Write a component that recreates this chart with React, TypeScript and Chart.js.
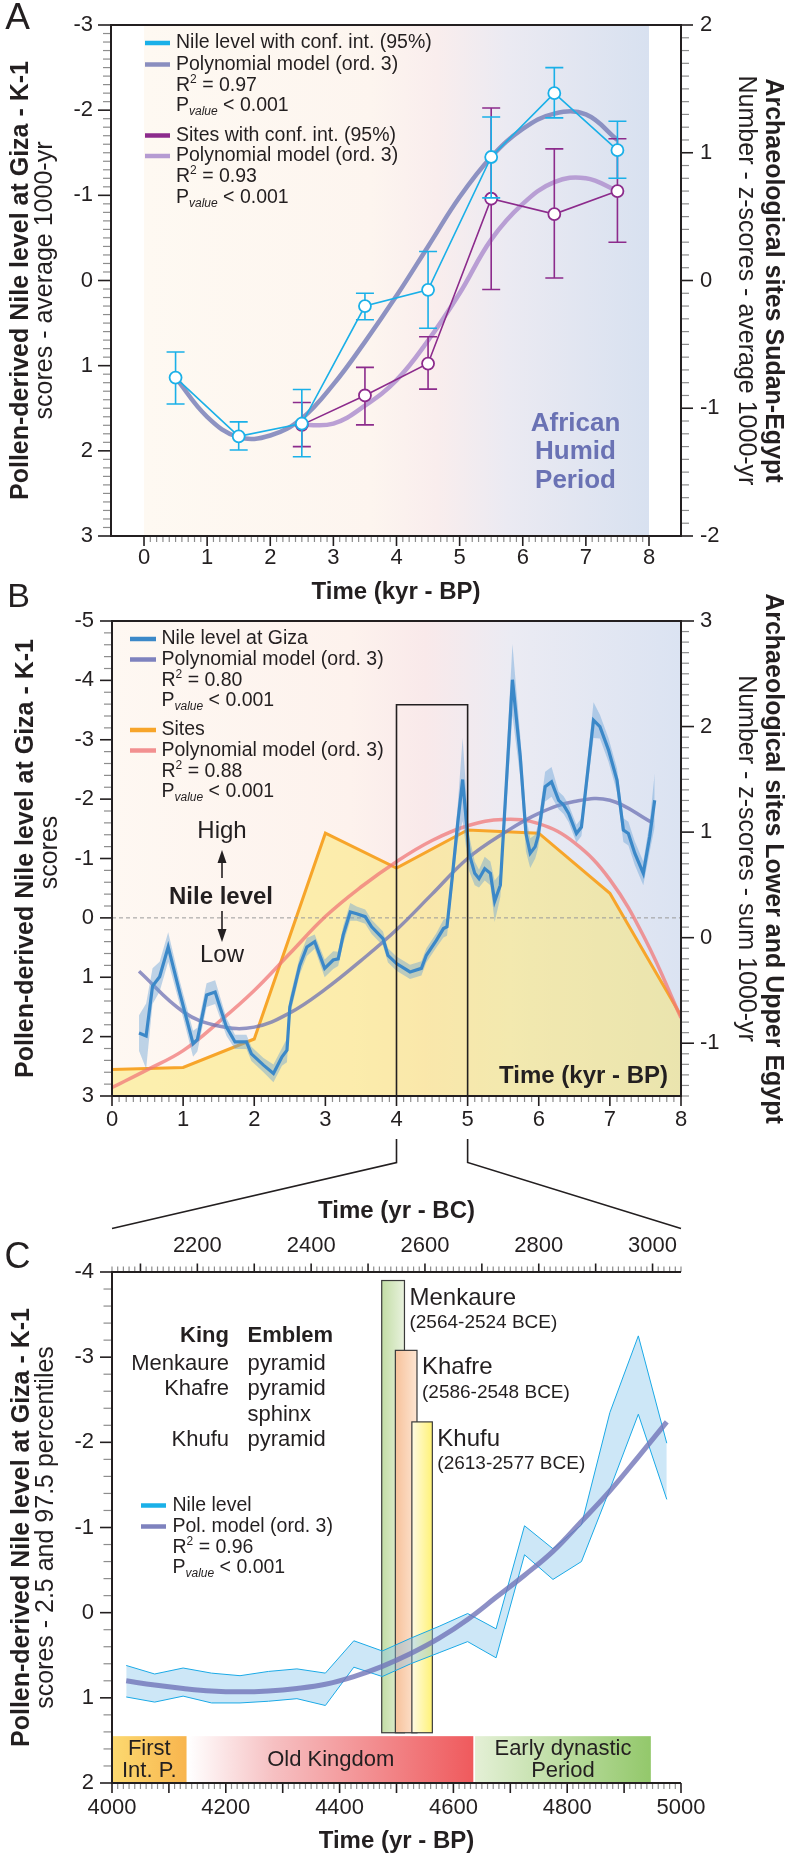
import React, { useEffect, useRef } from "react";
import { Chart, registerables } from "chart.js";

Chart.register(...registerables);

const FF = '"Liberation Sans", Arial, Helvetica, sans-serif';
const INK = "#231f20";
const MINOR = "#8d8d8d";

// ---------------- Panel A data ----------------
const A_X_TICKS = [0, 1, 2, 3, 4, 5, 6, 7, 8];
const A_Y_TICKS = [-3, -2, -1, 0, 1, 2, 3];
const A_Y2_TICKS = [2, 1, 0, -1, -2];
const A_NILE_X = [0.5, 1.5, 2.5, 3.5, 4.5, 5.5, 6.5, 7.5];
const A_NILE = [1.14, 1.83, 1.68, 0.3, 0.11, -1.45, -2.2, -1.53];
const A_NILE_CI_A = [0.84, 1.66, 1.28, 0.15, -0.34, -1.92, -2.5, -1.87];
const A_NILE_CI_B = [1.45, 1.99, 2.07, 0.46, 0.56, -0.97, -1.91, -1.2];
const A_SITES_X = [2.5, 3.5, 4.5, 5.5, 6.5, 7.5];
const A_SITES = [-1.13, -0.9, -0.65, 0.64, 0.52, 0.7];
const A_SITES_CI_A = [-1.3, -1.13, -0.85, -0.07, 0.02, 0.3];
const A_SITES_CI_B = [-0.955, -0.68, -0.44, 1.35, 1.03, 1.11];
const A_NPOLY_X = [0.5, 1, 1.5, 2, 2.5, 3, 3.5, 4, 4.5, 5, 5.5, 6, 6.5, 7, 7.5];
const A_NPOLY = [1.14, 1.6, 1.84, 1.82, 1.62, 1.22, 0.72, 0.18, -0.4, -0.98, -1.45, -1.78, -1.96, -1.95, -1.65];
const A_SPOLY_X = [2.5, 3, 3.5, 4, 4.5, 5, 5.5, 6, 6.5, 7, 7.5];
const A_SPOLY = [-1.13, -1.12, -0.98, -0.78, -0.47, -0.1, 0.32, 0.6, 0.77, 0.8, 0.7];

// ---------------- Panel B data ----------------
const B_X_TICKS = [0, 1, 2, 3, 4, 5, 6, 7, 8];
const B_Y_TICKS = [-5, -4, -3, -2, -1, 0, 1, 2, 3];
const B_Y2_TICKS = [3, 2, 1, 0, -1];
const B_NILE_X = [0.38, 0.48, 0.57, 0.67, 0.79, 0.95, 1.14, 1.2, 1.33, 1.45, 1.61, 1.73, 1.89, 1.96, 2.13, 2.27, 2.39, 2.46, 2.5, 2.64, 2.74, 2.85, 2.99, 3.11, 3.18, 3.25, 3.35, 3.44, 3.56, 3.65, 3.81, 3.88, 4.0, 4.19, 4.35, 4.42, 4.56, 4.66, 4.71, 4.78, 4.86, 4.93, 5.02, 5.1, 5.16, 5.24, 5.32, 5.38, 5.46, 5.63, 5.74, 5.82, 5.88, 5.95, 5.99, 6.09, 6.18, 6.28, 6.35, 6.42, 6.53, 6.6, 6.77, 6.86, 6.98, 7.1, 7.19, 7.26, 7.35, 7.47, 7.56, 7.63];
const B_NILE = [1.94, 1.99, 1.15, 0.99, 0.49, 1.25, 2.12, 2.05, 1.3, 1.25, 1.84, 2.09, 2.09, 2.29, 2.48, 2.62, 2.34, 2.23, 1.5, 0.8, 0.49, 0.4, 0.85, 0.71, 0.69, 0.29, -0.1, -0.07, -0.02, 0.15, 0.35, 0.63, 0.77, 0.91, 0.85, 0.63, 0.38, 0.18, 0.15, -0.64, -1.59, -2.33, -1.09, -0.75, -0.66, -0.83, -0.75, -0.28, -0.55, -4.01, -2.72, -1.42, -1.09, -1.2, -1.37, -2.21, -2.29, -1.98, -1.9, -1.76, -1.42, -1.53, -3.33, -3.22, -2.83, -2.32, -1.48, -1.42, -1.09, -0.75, -1.37, -1.98];
const B_NILE_CI = [0.3, 0.55, 0.3, 0.25, 0.25, 0.2, 0.22, 0.2, 0.2, 0.2, 0.15, 0.12, 0.12, 0.12, 0.12, 0.15, 0.15, 0.2, 0.15, 0.15, 0.15, 0.12, 0.15, 0.15, 0.12, 0.15, 0.15, 0.12, 0.12, 0.12, 0.12, 0.12, 0.12, 0.12, 0.12, 0.12, 0.12, 0.15, 0.15, 0.2, 0.3, 0.7, 0.3, 0.2, 0.15, 0.2, 0.2, 0.35, 0.2, 0.6, 0.35, 0.3, 0.25, 0.2, 0.2, 0.25, 0.25, 0.15, 0.15, 0.15, 0.15, 0.15, 0.3, 0.2, 0.2, 0.2, 0.2, 0.2, 0.2, 0.2, 0.25, 0.45];
const B_SITES_X = [0, 1, 2, 3, 4, 5, 6, 7, 8];
const B_SITES = [-1.25, -1.23, -0.96, 0.99, 0.66, 1.02, 0.99, 0.42, -0.74];
const B_NPOLY_X = [0.38, 1, 1.5, 2, 2.5, 3, 3.5, 4, 4.5, 5, 5.5, 6, 6.5, 7, 7.6];
const B_NPOLY = [0.9, 1.58, 1.82, 1.84, 1.6, 1.2, 0.72, 0.2, -0.4, -1.0, -1.42, -1.76, -1.96, -1.98, -1.6];
const B_SPOLY_X = [0, 0.5, 1, 1.5, 2, 2.5, 3, 3.5, 4, 4.5, 5, 5.5, 6, 6.5, 7, 7.5, 8];
const B_SPOLY = [-1.42, -1.25, -1.07, -0.8, -0.5, -0.15, 0.2, 0.48, 0.72, 0.92, 1.06, 1.12, 1.08, 0.9, 0.55, -0.02, -0.76];
const B_WINDOW = [4, 5];
const B_WINDOW_TOP = -3.59;

// ---------------- Panel C data ----------------
const C_X_TICKS = [4000, 4200, 4400, 4600, 4800, 5000];
const C_X2_TICKS = [2200, 2400, 2600, 2800, 3000];
const C_Y_TICKS = [-4, -3, -2, -1, 0, 1, 2];
const C_YEARS = [4025, 4075, 4125, 4175, 4225, 4275, 4325, 4375, 4425, 4475, 4525, 4575, 4625, 4675, 4725, 4775, 4825, 4875, 4925, 4975];
const C_UPPER = [0.62, 0.72, 0.65, 0.71, 0.74, 0.69, 0.66, 0.71, 0.33, 0.45, 0.3, 0.16, 0.01, 0.19, -1.02, -0.75, -1.03, -2.35, -3.25, -1.99];
const C_LOWER = [0.99, 1.05, 0.98, 1.06, 1.06, 1.04, 1.01, 1.09, 0.64, 0.75, 0.6, 0.47, 0.34, 0.53, -0.68, -0.39, -0.6, -1.45, -2.33, -1.33];
const C_POLY = [0.8, 0.85, 0.89, 0.92, 0.93, 0.92, 0.89, 0.84, 0.75, 0.63, 0.48, 0.3, 0.08, -0.18, -0.44, -0.72, -1.07, -1.43, -1.83, -2.24];
const REIGN_NAMES = ["Menkaure", "Khafre", "Khufu"];
const REIGN_FROM_BCE = [2564, 2586, 2613];
const REIGN_TO_BCE = [2524, 2548, 2577];
const REIGN_TOP = [-3.9, -3.08, -2.24];
const REIGN_BOTTOM = 1.41;
const PERIOD_NAMES = [["First", "Int. P."], ["Old Kingdom"], ["Early dynastic", "Period"]];
const PERIOD_FROM_BP = [4000, 4134, 4638];
const PERIOD_TO_BP = [4131, 4635, 4947];
const PERIOD_TOP = 1.45;
const TABLE_KINGS = ["Menkaure", "Khafre", "", "Khufu"];
const TABLE_EMBLEMS = ["pyramid", "pyramid", "sphinx", "pyramid"];

// ---------------- helpers ----------------
const pts = (xs: number[], ys: number[]) => xs.map((x, i) => ({ x, y: ys[i] }));
const font = (size: number, weight = "normal", style = "normal") => `${style} ${weight} ${size}px ${FF}`;

function txt(ctx: any, s: string, x: number, y: number, size: number, weight = "normal", align = "left", color = INK) {
  ctx.save();
  ctx.font = font(size, weight);
  ctx.fillStyle = color;
  ctx.textAlign = align;
  ctx.textBaseline = "middle";
  ctx.fillText(s, x, y);
  ctx.restore();
}

function rtext(ctx: any, s: string, x: number, y: number, size: number, weight: string, angle: number) {
  ctx.save();
  ctx.translate(x, y);
  ctx.rotate(angle);
  ctx.font = font(size, weight);
  ctx.fillStyle = INK;
  ctx.textAlign = "center";
  ctx.textBaseline = "middle";
  ctx.fillText(s, 0, 0);
  ctx.restore();
}

type Seg = [string, number, number?, string?];
function rich(ctx: any, x: number, y: number, segs: Seg[]) {
  ctx.save();
  ctx.textBaseline = "middle";
  ctx.textAlign = "left";
  ctx.fillStyle = INK;
  let cx = x;
  for (const s of segs) {
    ctx.font = font(s[1], "normal", s[3] || "normal");
    ctx.fillText(s[0], cx, y + (s[2] || 0));
    cx += ctx.measureText(s[0]).width;
  }
  ctx.restore();
}
const LG = 19.5;
const r2 = (v: string): Seg[] => [["R", LG], ["2", 12, -6], [" = " + v, LG]];
const pval = (): Seg[] => [["P", LG], ["value", 12, 6, "italic"], [" < 0.001", LG]];

function lline(ctx: any, x1: number, x2: number, y: number, color: string, w = 4.5) {
  ctx.save();
  ctx.strokeStyle = color;
  ctx.lineWidth = w;
  ctx.beginPath();
  ctx.moveTo(x1, y);
  ctx.lineTo(x2, y);
  ctx.stroke();
  ctx.restore();
}

function yTicks(ctx: any, scale: any, xLine: number, dir: number, from: number, to: number, minor: number, every: number, majLen: number, minLen: number) {
  const n0 = Math.round(from / minor), n1 = Math.round(to / minor);
  for (let k = n0; k <= n1; k++) {
    const major = k % every === 0;
    const y = scale.getPixelForValue(k * minor);
    ctx.beginPath();
    ctx.strokeStyle = major ? INK : MINOR;
    ctx.lineWidth = major ? 1.6 : 1.2;
    ctx.moveTo(xLine, y);
    ctx.lineTo(xLine + dir * (major ? majLen : minLen), y);
    ctx.stroke();
  }
}

function xTicks(ctx: any, scale: any, yLine: number, dir: number, from: number, to: number, minor: number, every: number, majLen: number, minLen: number) {
  const n0 = Math.round(from / minor), n1 = Math.round(to / minor);
  for (let k = n0; k <= n1; k++) {
    const major = k % every === 0;
    const x = scale.getPixelForValue(k * minor);
    ctx.beginPath();
    ctx.strokeStyle = major ? INK : MINOR;
    ctx.lineWidth = major ? 1.6 : 1.2;
    ctx.moveTo(x, yLine);
    ctx.lineTo(x, yLine + dir * (major ? majLen : minLen));
    ctx.stroke();
  }
}

function yLabels(ctx: any, scale: any, vals: number[], x: number, align: string) {
  for (const v of vals) txt(ctx, String(v), x, scale.getPixelForValue(v), 22, "normal", align);
}
function xLabels(ctx: any, scale: any, vals: number[], y: number) {
  for (const v of vals) txt(ctx, String(v), scale.getPixelForValue(v), y, 22, "normal", "center");
}

function arrow(ctx: any, x: number, y1: number, y2: number) {
  const d = y2 > y1 ? 1 : -1;
  ctx.save();
  ctx.strokeStyle = INK;
  ctx.fillStyle = INK;
  ctx.lineWidth = 1.6;
  ctx.beginPath();
  ctx.moveTo(x, y1);
  ctx.lineTo(x, y2 - d * 8);
  ctx.stroke();
  ctx.beginPath();
  ctx.moveTo(x, y2);
  ctx.lineTo(x - 4.5, y2 - d * 13);
  ctx.lineTo(x + 4.5, y2 - d * 13);
  ctx.closePath();
  ctx.fill();
  ctx.restore();
}

function errBars(ctx: any, xs: any, ys: any, X: number[], A: number[], B: number[], color: string) {
  ctx.save();
  ctx.strokeStyle = color;
  ctx.lineWidth = 1.6;
  X.forEach((xv, i) => {
    const x = xs.getPixelForValue(xv);
    const ya = ys.getPixelForValue(A[i]);
    const yb = ys.getPixelForValue(B[i]);
    ctx.beginPath();
    ctx.moveTo(x, ya);
    ctx.lineTo(x, yb);
    ctx.moveTo(x - 9, ya);
    ctx.lineTo(x + 9, ya);
    ctx.moveTo(x - 9, yb);
    ctx.lineTo(x + 9, yb);
    ctx.stroke();
  });
  ctx.restore();
}

const baseOpts = (padding: any) => ({
  responsive: false,
  maintainAspectRatio: false,
  animation: false,
  events: [],
  layout: { padding, autoPadding: false },
  plugins: { legend: { display: false }, tooltip: { enabled: false }, title: { display: false } },
});

// ---------------- Panel A ----------------
const A_TOP = 0;
const pluginA = {
  id: "panelA",
  beforeDatasetsDraw(chart: any) {
    const { ctx, chartArea: ca, scales } = chart;
    const x0 = scales.x.getPixelForValue(A_X_TICKS[0]);
    const x1 = scales.x.getPixelForValue(A_X_TICKS[A_X_TICKS.length - 1]);
    const g = ctx.createLinearGradient(x0, 0, x1, 0);
    g.addColorStop(0, "#fef9f2");
    g.addColorStop(0.45, "#fdf5ef");
    g.addColorStop(0.58, "#f9eded");
    g.addColorStop(0.72, "#ebeaf2");
    g.addColorStop(1, "#d8e1f0");
    ctx.save();
    ctx.fillStyle = g;
    ctx.fillRect(x0, ca.top, x1 - x0, ca.bottom - ca.top);
    ctx.restore();
  },
  beforeDatasetDraw(chart: any, args: any) {
    const { ctx, scales } = chart;
    const lbl = chart.data.datasets[args.index].label;
    if (lbl === "nile") errBars(ctx, scales.x, scales.y, A_NILE_X, A_NILE_CI_A, A_NILE_CI_B, "#1ab0e8");
    if (lbl === "sites") errBars(ctx, scales.x, scales.y2, A_SITES_X, A_SITES_CI_A, A_SITES_CI_B, "#8c2b8c");
  },
  afterDraw(chart: any) {
    const { ctx, chartArea: ca, scales } = chart;
    const { x, y, y2 } = scales;
    const T = (py: number) => py - A_TOP;
    ctx.save();
    yTicks(ctx, y, ca.left, -1, -3, 3, 0.1, 10, 13, 8);
    yTicks(ctx, y2, ca.right, 1, -2, 2, 0.1, 10, 12, 8);
    xTicks(ctx, x, ca.bottom, 1, 0, 8, 0.1, 10, 10, 6);
    ctx.strokeStyle = INK;
    ctx.lineWidth = 2;
    ctx.strokeRect(ca.left, ca.top, ca.right - ca.left, ca.bottom - ca.top);
    ctx.restore();
    yLabels(ctx, y, A_Y_TICKS, ca.left - 18, "right");
    yLabels(ctx, y2, A_Y2_TICKS, ca.right + 19, "left");
    xLabels(ctx, x, A_X_TICKS, ca.bottom + 22);
    const cy = (ca.top + ca.bottom) / 2;
    rtext(ctx, "Pollen-derived Nile level at Giza - K-1", 21.5, cy, 25, "bold", -Math.PI / 2);
    rtext(ctx, "scores - average 1000-yr", 45, cy, 25, "normal", -Math.PI / 2);
    rtext(ctx, "Archaeological sites Sudan-Egypt", 773, cy, 25, "bold", Math.PI / 2);
    rtext(ctx, "Number - z-scores - average 1000-yr", 746, cy, 25, "normal", Math.PI / 2);
    txt(ctx, "Time (kyr - BP)", (ca.left + ca.right) / 2, T(592), 24, "bold", "center");
    txt(ctx, "A", 17.5, T(19), 37, "normal", "center");
    // African Humid Period
    txt(ctx, "African", 575.5, T(423.5), 26, "bold", "center", "#6a72b4");
    txt(ctx, "Humid", 575.5, T(452), 26, "bold", "center", "#6a72b4");
    txt(ctx, "Period", 575.5, T(480.5), 26, "bold", "center", "#6a72b4");
    // legend
    const lx1 = 145, lx2 = 170, tx = 176;
    lline(ctx, lx1, lx2, T(43), "#1ab0e8");
    txt(ctx, "Nile level with conf. int. (95%)", tx, T(43), LG);
    lline(ctx, lx1, lx2, T(64.5), "#8a8ebf");
    txt(ctx, "Polynomial model (ord. 3)", tx, T(64.5), LG);
    rich(ctx, tx, T(85.5), r2("0.97"));
    rich(ctx, tx, T(106), pval());
    lline(ctx, lx1, lx2, T(135.5), "#8c2b8c");
    txt(ctx, "Sites with conf. int. (95%)", tx, T(135.5), LG);
    lline(ctx, lx1, lx2, T(156), "#b59bd2");
    txt(ctx, "Polynomial model (ord. 3)", tx, T(156), LG);
    rich(ctx, tx, T(177), r2("0.93"));
    rich(ctx, tx, T(197.5), pval());
  },
};

function cfgA(): any {
  return {
    type: "line",
    data: {
      datasets: [
        { label: "nile", data: pts(A_NILE_X, A_NILE), xAxisID: "x", yAxisID: "y", borderColor: "#1ab0e8", borderWidth: 1.6, pointRadius: 6, pointBackgroundColor: "#ffffff", pointBorderColor: "#1ab0e8", pointBorderWidth: 1.8, tension: 0, order: 1 },
        { label: "sites", data: pts(A_SITES_X, A_SITES), xAxisID: "x", yAxisID: "y2", borderColor: "#8c2b8c", borderWidth: 1.6, pointRadius: 6, pointBackgroundColor: "#ffffff", pointBorderColor: "#8c2b8c", pointBorderWidth: 1.8, tension: 0, order: 2 },
        { label: "npoly", data: pts(A_NPOLY_X, A_NPOLY), xAxisID: "x", yAxisID: "y", borderColor: "rgba(130,135,188,0.9)", borderWidth: 4.5, pointRadius: 0, tension: 0.4, order: 3 },
        { label: "spoly", data: pts(A_SPOLY_X, A_SPOLY), xAxisID: "x", yAxisID: "y2", borderColor: "rgba(178,150,208,0.9)", borderWidth: 4.5, pointRadius: 0, tension: 0.4, order: 4 },
      ],
    },
    options: {
      ...baseOpts({ left: 111, right: 104, top: 25, bottom: 76 }),
      scales: {
        x: { type: "linear", display: false, min: -0.523, max: 8.507 },
        y: { type: "linear", display: false, min: -3, max: 3, reverse: true },
        y2: { type: "linear", display: false, min: -2, max: 2, position: "right" },
      },
    },
    plugins: [pluginA],
  };
}

// ---------------- Panel B ----------------
const B_TOP = 580;
const pluginB = {
  id: "panelB",
  beforeDatasetsDraw(chart: any) {
    const { ctx, chartArea: ca } = chart;
    const g = ctx.createLinearGradient(ca.left, 0, ca.right, 0);
    g.addColorStop(0, "#fef8f2");
    g.addColorStop(0.42, "#fdf2ed");
    g.addColorStop(0.55, "#f9e9ea");
    g.addColorStop(0.7, "#ebebf3");
    g.addColorStop(1, "#dbe3f2");
    ctx.save();
    ctx.fillStyle = g;
    ctx.fillRect(ca.left, ca.top, ca.right - ca.left, ca.bottom - ca.top);
    ctx.restore();
  },
  beforeDatasetDraw(chart: any, args: any) {
    const { ctx, chartArea: ca, scales } = chart;
    if (chart.data.datasets[args.index].label === "spoly") {
      const y0 = scales.y.getPixelForValue(0);
      ctx.save();
      ctx.strokeStyle = "#9a9a9a";
      ctx.lineWidth = 1;
      ctx.setLineDash([4, 3]);
      ctx.beginPath();
      ctx.moveTo(ca.left, y0);
      ctx.lineTo(ca.right, y0);
      ctx.stroke();
      ctx.restore();
    }
  },
  afterDraw(chart: any) {
    const { ctx, chartArea: ca, scales } = chart;
    const { x, y, y2 } = scales;
    const T = (py: number) => py - B_TOP;
    // zoom window
    const wx0 = x.getPixelForValue(B_WINDOW[0]);
    const wx1 = x.getPixelForValue(B_WINDOW[1]);
    const wy = y.getPixelForValue(B_WINDOW_TOP);
    ctx.save();
    ctx.strokeStyle = INK;
    ctx.lineWidth = 1.6;
    ctx.beginPath();
    ctx.moveTo(wx0, ca.bottom);
    ctx.lineTo(wx0, wy);
    ctx.lineTo(wx1, wy);
    ctx.lineTo(wx1, ca.bottom);
    ctx.stroke();
    ctx.beginPath();
    ctx.moveTo(wx0, T(1139));
    ctx.lineTo(wx0, T(1162.5));
    ctx.lineTo(ca.left, T(1228.5));
    ctx.moveTo(wx1, T(1139));
    ctx.lineTo(wx1, T(1162.5));
    ctx.lineTo(ca.right, T(1228.5));
    ctx.stroke();
    yTicks(ctx, y, ca.left, -1, -5, 3, 0.2, 5, 12, 8);
    yTicks(ctx, y2, ca.right, 1, -1.5, 3, 0.1, 10, 13, 8);
    xTicks(ctx, x, ca.bottom, 1, 0, 8, 0.1, 10, 10, 6);
    ctx.strokeStyle = INK;
    ctx.lineWidth = 2;
    ctx.strokeRect(ca.left, ca.top, ca.right - ca.left, ca.bottom - ca.top);
    ctx.restore();
    yLabels(ctx, y, B_Y_TICKS, ca.left - 18, "right");
    yLabels(ctx, y2, B_Y2_TICKS, ca.right + 19, "left");
    xLabels(ctx, x, B_X_TICKS, ca.bottom + 24);
    const cy = (ca.top + ca.bottom) / 2;
    rtext(ctx, "Pollen-derived Nile level at Giza - K-1", 26, cy, 25, "bold", -Math.PI / 2);
    rtext(ctx, "scores", 50.5, cy - 6, 25, "normal", -Math.PI / 2);
    rtext(ctx, "Archaeological sites Lower and Upper Egypt", 773, cy, 25, "bold", Math.PI / 2);
    rtext(ctx, "Number - z-scores - sum 1000-yr", 746, cy, 25, "normal", Math.PI / 2);
    txt(ctx, "Time (kyr - BP)", 668, T(1076.5), 24, "bold", "right");
    txt(ctx, "B", 18.5, T(598), 34, "normal", "center");
    // High / Low
    txt(ctx, "High", 222, T(831), 24, "normal", "center");
    arrow(ctx, 222, T(878), T(850));
    txt(ctx, "Nile level", 221, T(897), 24, "bold", "center");
    arrow(ctx, 222, T(911), T(942));
    txt(ctx, "Low", 222, T(955.5), 24, "normal", "center");
    // legend
    const lx1 = 130, lx2 = 156, tx = 161.5;
    lline(ctx, lx1, lx2, T(639), "#3b88c8");
    txt(ctx, "Nile level at Giza", tx, T(639), LG);
    lline(ctx, lx1, lx2, T(659.5), "#7e82be");
    txt(ctx, "Polynomial model (ord. 3)", tx, T(659.5), LG);
    rich(ctx, tx, T(680.5), r2("0.80"));
    rich(ctx, tx, T(701), pval());
    lline(ctx, lx1, lx2, T(730), "#f7a52a");
    txt(ctx, "Sites", tx, T(730), LG);
    lline(ctx, lx1, lx2, T(750.5), "#f29090");
    txt(ctx, "Polynomial model (ord. 3)", tx, T(750.5), LG);
    rich(ctx, tx, T(771.5), r2("0.88"));
    rich(ctx, tx, T(792), pval());
  },
};

function cfgB(): any {
  const upper = B_NILE.map((v, i) => v - B_NILE_CI[i]);
  const lower = B_NILE.map((v, i) => v + B_NILE_CI[i]);
  return {
    type: "line",
    data: {
      datasets: [
        { label: "nile", data: pts(B_NILE_X, B_NILE), xAxisID: "x", yAxisID: "y", borderColor: "#3b88c8", borderWidth: 3.2, pointRadius: 0, tension: 0, order: 1 },
        { label: "ciU", data: pts(B_NILE_X, upper), xAxisID: "x", yAxisID: "y", borderWidth: 0, borderColor: "rgba(0,0,0,0)", pointRadius: 0, tension: 0, order: 2 },
        { label: "ciL", data: pts(B_NILE_X, lower), xAxisID: "x", yAxisID: "y", borderWidth: 0, borderColor: "rgba(0,0,0,0)", pointRadius: 0, tension: 0, fill: "-1", backgroundColor: "rgba(100,160,215,0.42)", order: 2 },
        { label: "npoly", data: pts(B_NPOLY_X, B_NPOLY), xAxisID: "x", yAxisID: "y", borderColor: "rgba(110,114,180,0.75)", borderWidth: 3.5, pointRadius: 0, tension: 0.4, order: 3 },
        { label: "spoly", data: pts(B_SPOLY_X, B_SPOLY), xAxisID: "x", yAxisID: "y2", borderColor: "rgba(240,120,120,0.75)", borderWidth: 3.5, pointRadius: 0, tension: 0.4, order: 4 },
        { label: "sites", data: pts(B_SITES_X, B_SITES), xAxisID: "x", yAxisID: "y2", borderColor: "#f7a52a", borderWidth: 3, pointRadius: 0, tension: 0, fill: "start", backgroundColor: "rgba(250,230,100,0.48)", order: 5 },
      ],
    },
    options: {
      ...baseOpts({ left: 112, right: 104, top: 41, bottom: 144 }),
      scales: {
        x: { type: "linear", display: false, min: 0, max: 8 },
        y: { type: "linear", display: false, min: -5, max: 3, reverse: true },
        y2: { type: "linear", display: false, min: -1.5, max: 3, position: "right" },
      },
    },
    plugins: [pluginB],
  };
}

// ---------------- Panel C ----------------
const C_TOP = 1195;
const REIGN_COLORS = [["#c2dda5", "#e9f2de"], ["#f7c29b", "#fde5d2"], ["#fffbe3", "#fff276"]];
const PERIOD_COLORS = [["#fcd970", "#f8b54e"], ["#ffffff", "#ef5a5d"], ["#e4f0d6", "#93c86b"]];
const pluginC = {
  id: "panelC",
  beforeDatasetsDraw(chart: any) {
    const { ctx, scales } = chart;
    const { x, x2, y } = scales;
    ctx.save();
    // periods
    PERIOD_NAMES.forEach((_, i) => {
      const l = x.getPixelForValue(PERIOD_FROM_BP[i]);
      const r = x.getPixelForValue(PERIOD_TO_BP[i]);
      const t = y.getPixelForValue(PERIOD_TOP);
      const b = y.getPixelForValue(2);
      const g = ctx.createLinearGradient(l, 0, r, 0);
      g.addColorStop(0, PERIOD_COLORS[i][0]);
      if (i === 1) g.addColorStop(0.3, "#f6c0c2");
      g.addColorStop(1, PERIOD_COLORS[i][1]);
      ctx.fillStyle = g;
      ctx.fillRect(l, t, r - l, b - t);
    });
    // reigns
    REIGN_NAMES.forEach((_, i) => {
      const l = x2.getPixelForValue(REIGN_TO_BCE[i]);
      const r = x2.getPixelForValue(REIGN_FROM_BCE[i]);
      const t = y.getPixelForValue(REIGN_TOP[i]);
      const b = y.getPixelForValue(REIGN_BOTTOM);
      const g = ctx.createLinearGradient(l, 0, r, 0);
      g.addColorStop(0, REIGN_COLORS[i][0]);
      g.addColorStop(1, REIGN_COLORS[i][1]);
      ctx.fillStyle = g;
      ctx.fillRect(l, t, r - l, b - t);
      ctx.strokeStyle = "#3a3a3a";
      ctx.lineWidth = 1.2;
      ctx.strokeRect(l, t, r - l, b - t);
    });
    ctx.restore();
  },
  afterDraw(chart: any) {
    const { ctx, chartArea: ca, scales } = chart;
    const { x, x2, y } = scales;
    const T = (py: number) => py - C_TOP;
    ctx.save();
    yTicks(ctx, y, ca.left, -1, -4, 2, 0.2, 5, 12, 8.5);
    xTicks(ctx, x, ca.bottom, 1, 4000, 5000, 10, 10, 10, 6);
    xTicks(ctx, x2, ca.top, -1, 2050, 3050, 10, 10, 8.5, 5.5);
    ctx.strokeStyle = INK;
    ctx.lineWidth = 2;
    ctx.beginPath();
    ctx.moveTo(ca.right, ca.top);
    ctx.lineTo(ca.left, ca.top);
    ctx.lineTo(ca.left, ca.bottom);
    ctx.lineTo(ca.right, ca.bottom);
    ctx.stroke();
    ctx.restore();
    yLabels(ctx, y, C_Y_TICKS, ca.left - 18, "right");
    xLabels(ctx, x, C_X_TICKS, ca.bottom + 24.5);
    xLabels(ctx, x2, C_X2_TICKS, ca.top - 26);
    const cy = (ca.top + ca.bottom) / 2;
    rtext(ctx, "Pollen-derived Nile level at Giza - K-1", 22.5, cy, 25, "bold", -Math.PI / 2);
    rtext(ctx, "scores - 2.5 and 97.5 percentiles", 46, cy, 25, "normal", -Math.PI / 2);
    txt(ctx, "Time (yr - BC)", (ca.left + ca.right) / 2, T(1211.5), 24, "bold", "center");
    txt(ctx, "Time (yr - BP)", (ca.left + ca.right) / 2, T(1841.5), 24, "bold", "center");
    txt(ctx, "C", 17.5, T(1258), 36, "normal", "center");
    // reign labels
    REIGN_NAMES.forEach((n, i) => {
      const r = x2.getPixelForValue(REIGN_FROM_BCE[i]) + 5;
      const t = y.getPixelForValue(REIGN_TOP[i]);
      txt(ctx, n, r, t + 17.5, 24);
      txt(ctx, `(${REIGN_FROM_BCE[i]}-${REIGN_TO_BCE[i]} BCE)`, r, t + 42, 19);
    });
    // periods text
    PERIOD_NAMES.forEach((lines, i) => {
      const cx = (x.getPixelForValue(PERIOD_FROM_BP[i]) + x.getPixelForValue(PERIOD_TO_BP[i])) / 2;
      if (lines.length === 1) txt(ctx, lines[0], cx, T(1760), 22, "normal", "center");
      else {
        txt(ctx, lines[0], cx, T(1749), 22, "normal", "center");
        txt(ctx, lines[1], cx, T(1770.5), 22, "normal", "center");
      }
    });
    // table
    txt(ctx, "King", 229, T(1336), 22, "bold", "right");
    txt(ctx, "Emblem", 247.5, T(1336), 22, "bold", "left");
    TABLE_KINGS.forEach((k, i) => {
      const yy = T(1363.5 + i * 25.5);
      if (k) txt(ctx, k, 229, yy, 22, "normal", "right");
      txt(ctx, TABLE_EMBLEMS[i], 247.5, yy, 22, "normal", "left");
    });
    // legend
    lline(ctx, 141, 166, T(1505.5), "#1ab0e8");
    txt(ctx, "Nile level", 172.5, T(1505.5), LG);
    lline(ctx, 141, 166, T(1526.5), "#7e82be");
    txt(ctx, "Pol. model (ord. 3)", 172.5, T(1526.5), LG);
    rich(ctx, 172.5, T(1547.5), r2("0.96"));
    rich(ctx, 172.5, T(1568), pval());
  },
};

function cfgC(): any {
  return {
    type: "line",
    data: {
      datasets: [
        { label: "poly", data: pts(C_YEARS, C_POLY), xAxisID: "x", yAxisID: "y", borderColor: "rgba(112,116,184,0.8)", borderWidth: 5, pointRadius: 0, tension: 0.4, order: 1 },
        { label: "upper", data: pts(C_YEARS, C_UPPER), xAxisID: "x", yAxisID: "y", borderColor: "#1aa9e6", borderWidth: 1, pointRadius: 0, tension: 0, order: 2 },
        { label: "lower", data: pts(C_YEARS, C_LOWER), xAxisID: "x", yAxisID: "y", borderColor: "#1aa9e6", borderWidth: 1, pointRadius: 0, tension: 0, fill: "-1", backgroundColor: "rgba(130,195,235,0.4)", order: 2 },
      ],
    },
    options: {
      ...baseOpts({ left: 112, right: 104, top: 77, bottom: 76 }),
      scales: {
        x: { type: "linear", display: false, min: 4000, max: 5000 },
        x2: { type: "linear", display: false, min: 2050, max: 3050, position: "top" },
        y: { type: "linear", display: false, min: -4, max: 2, reverse: true },
      },
    },
    plugins: [pluginC],
  };
}

export default function App() {
  const a = useRef<HTMLCanvasElement>(null);
  const b = useRef<HTMLCanvasElement>(null);
  const c = useRef<HTMLCanvasElement>(null);
  useEffect(() => {
    const charts = [
      new Chart(a.current as any, cfgA()),
      new Chart(b.current as any, cfgB()),
      new Chart(c.current as any, cfgC()),
    ];
    return () => charts.forEach((ch) => ch.destroy());
  }, []);
  const cs = (top: number, h: number): any => ({ position: "absolute", left: 0, top, width: 785, height: h });
  return (
    <div style={{ position: "absolute", left: 0, top: 0, width: 785, height: 1859, background: "#ffffff", overflow: "hidden" }}>
      <canvas ref={a} width={785} height={612} style={cs(A_TOP, 612)} />
      <canvas ref={b} width={785} height={660} style={cs(B_TOP, 660)} />
      <canvas ref={c} width={785} height={664} style={cs(C_TOP, 664)} />
    </div>
  );
}
